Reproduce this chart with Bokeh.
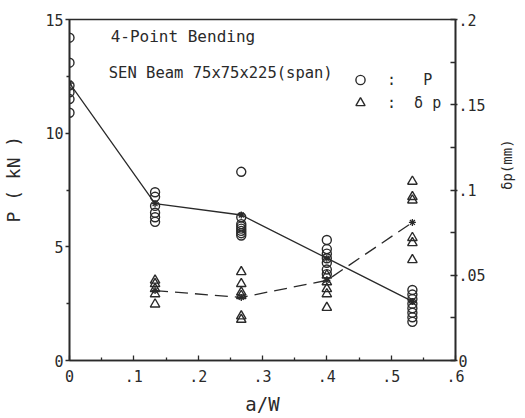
import math
from bokeh.plotting import figure
from bokeh.models import Range1d, LinearAxis, FixedTicker, Label, Legend, LegendItem
from bokeh.embed import file_html
from bokeh.resources import INLINE

# crack depth ratio a/W of the specimen groups
aw_groups = [0.0, 0.133, 0.267, 0.4, 0.533]

# maximum load P (kN) of each specimen
P_aw = [0.0, 0.0, 0.0, 0.0, 0.0, 0.0,
        0.133, 0.133, 0.133, 0.133, 0.133, 0.133,
        0.267, 0.267, 0.267, 0.267, 0.267, 0.267, 0.267, 0.267,
        0.4, 0.4, 0.4, 0.4, 0.4, 0.4, 0.4,
        0.533, 0.533, 0.533, 0.533, 0.533, 0.533, 0.533, 0.533]
P_kN = [14.2, 13.1, 12.1, 11.8, 11.5, 10.9,
        7.4, 7.2, 6.8, 6.5, 6.3, 6.1,
        8.3, 6.3, 6.0, 5.9, 5.8, 5.7, 5.6, 5.5,
        5.3, 4.9, 4.7, 4.5, 4.3, 4.0, 3.8,
        3.1, 2.9, 2.7, 2.5, 2.3, 2.1, 1.9, 1.7]

# load-point deflection at maximum load (mm)
dp_aw = [0.133, 0.133, 0.133, 0.133, 0.133,
         0.267, 0.267, 0.267, 0.267, 0.267, 0.267,
         0.4, 0.4, 0.4, 0.4, 0.4,
         0.533, 0.533, 0.533, 0.533, 0.533, 0.533]
dp_mm = [0.047, 0.045, 0.042, 0.039, 0.033,
         0.052, 0.045, 0.040, 0.038, 0.026, 0.024,
         0.050, 0.046, 0.042, 0.039, 0.031,
         0.105, 0.096, 0.094, 0.072, 0.069, 0.059]

# group averages (joined by lines)
P_mean = [12.2, 6.9, 6.4, 4.5, 2.6]
dp_mean_aw = [0.133, 0.267, 0.4, 0.533]
dp_mean = [0.041, 0.037, 0.047, 0.081]

# axis ticks
x_ticks = [0.0, 0.1, 0.2, 0.3, 0.4, 0.5, 0.6]
x_tick_labels = ["0", ".1", ".2", ".3", ".4", ".5", ".6"]
x_minor = [0.05, 0.15, 0.25, 0.35, 0.45, 0.55]
P_ticks = [0, 5, 10, 15]
P_tick_labels = ["0", "5", "10", "15"]
P_minor = [2.5, 7.5, 12.5]
dp_ticks = [0.0, 0.05, 0.1, 0.15, 0.2]
dp_tick_labels = ["0", ".05", ".1", ".15", ".2"]
dp_minor = [0.025, 0.075, 0.125, 0.175]

INK = "#2a2a2a"
MONO = "DejaVu Sans Mono"

p = figure(width=525, height=418, output_backend="svg", toolbar_location=None,
           x_range=Range1d(0, 0.6), y_range=Range1d(0, 15),
           x_axis_location=None, y_axis_location=None,
           min_border_left=69, min_border_right=69,
           min_border_top=19, min_border_bottom=58)
p.extra_y_ranges = {"dp": Range1d(0, 0.2)}
p.grid.visible = False
p.outline_line_color = INK
p.outline_line_width = 1.6
p.background_fill_color = "white"
p.border_fill_color = "white"


def style_axis(ax):
    ax.axis_line_color = INK
    ax.axis_line_width = 1.6
    ax.major_tick_line_color = INK
    ax.minor_tick_line_color = INK
    ax.major_tick_line_width = 1.3
    ax.minor_tick_line_width = 1.3
    ax.major_label_text_font = MONO
    ax.major_label_text_font_size = "15px"
    ax.major_label_text_color = INK
    ax.axis_label_text_font = MONO
    ax.axis_label_text_font_style = "normal"
    ax.axis_label_text_color = INK


xb = LinearAxis(ticker=FixedTicker(ticks=x_ticks, minor_ticks=x_minor),
                major_label_overrides=dict(zip(x_ticks, x_tick_labels)),
                axis_label="a/W")
style_axis(xb)
xb.major_tick_in, xb.major_tick_out = 5, 0
xb.minor_tick_in, xb.minor_tick_out = 3, 0
xb.major_label_standoff = 9
xb.axis_label_text_font_size = "19px"
xb.axis_label_standoff = 8
p.add_layout(xb, "below")

yl = LinearAxis(ticker=FixedTicker(ticks=P_ticks, minor_ticks=P_minor),
                major_label_overrides=dict(zip(P_ticks, P_tick_labels)),
                axis_label="\u00a0\u00a0P ( kN )")
style_axis(yl)
yl.major_tick_in, yl.major_tick_out = 0, 4
yl.minor_tick_in, yl.minor_tick_out = 0, 3
yl.major_label_standoff = 2
yl.axis_label_text_font_size = "18px"
yl.axis_label_standoff = 18
p.add_layout(yl, "left")

yr = LinearAxis(y_range_name="dp",
                ticker=FixedTicker(ticks=dp_ticks, minor_ticks=dp_minor),
                major_label_overrides=dict(zip(dp_ticks, dp_tick_labels)),
                axis_label="\u03b4p(mm)")
style_axis(yr)
yr.major_tick_in, yr.major_tick_out = 5, 2
yr.minor_tick_in, yr.minor_tick_out = 5, 0
yr.major_label_standoff = 1
yr.axis_label_text_font_size = "14px"
yr.axis_label_standoff = 18
# the deflection title reads upward, like the load title on the left
yr.axis_label_orientation = math.pi / 2
p.add_layout(yr, "right")

# mean curves
p.line(aw_groups, P_mean, line_color=INK, line_width=1.3)
p.line(dp_mean_aw, dp_mean, y_range_name="dp", line_color=INK,
       line_width=1.3, line_dash="13 7")
p.scatter(aw_groups, P_mean, marker="asterisk", size=7, line_color=INK,
          line_width=1.3)
p.scatter(dp_mean_aw, dp_mean, y_range_name="dp", marker="asterisk", size=7,
          line_color=INK, line_width=1.3)

# individual specimens
circ = p.scatter(x=P_aw, y=P_kN, marker="circle", size=9, fill_color=None,
                 line_color=INK, line_width=1.4)
tri = p.scatter(x=dp_aw, y=dp_mm, y_range_name="dp", marker="triangle",
                size=9.5, fill_color=None, line_color=INK, line_width=1.4)

legend = Legend(items=[LegendItem(label="\u00a0:\u00a0\u00a0\u00a0P", renderers=[circ]),
                       LegendItem(label="\u00a0:\u00a0\u00a0\u03b4 p", renderers=[tri])],
                location=(279, 246), orientation="vertical",
                background_fill_alpha=0, border_line_color=None,
                label_text_font=MONO, label_text_font_size="15px",
                label_text_color=INK, glyph_width=24, glyph_height=23,
                label_height=20, spacing=0, padding=0, margin=0,
                label_standoff=6)
p.add_layout(legend)

p.add_layout(Label(x=0.064, y=14.25, text="4-Point Bending", text_font=MONO,
                   text_font_size="16px", text_color=INK, text_baseline="middle"))
p.add_layout(Label(x=0.061, y=12.65, text="SEN Beam 75x75x225(span)",
                   text_font=MONO, text_font_size="15.5px", text_color=INK,
                   text_baseline="middle"))

open("out.html", "w").write(file_html(p, INLINE))
